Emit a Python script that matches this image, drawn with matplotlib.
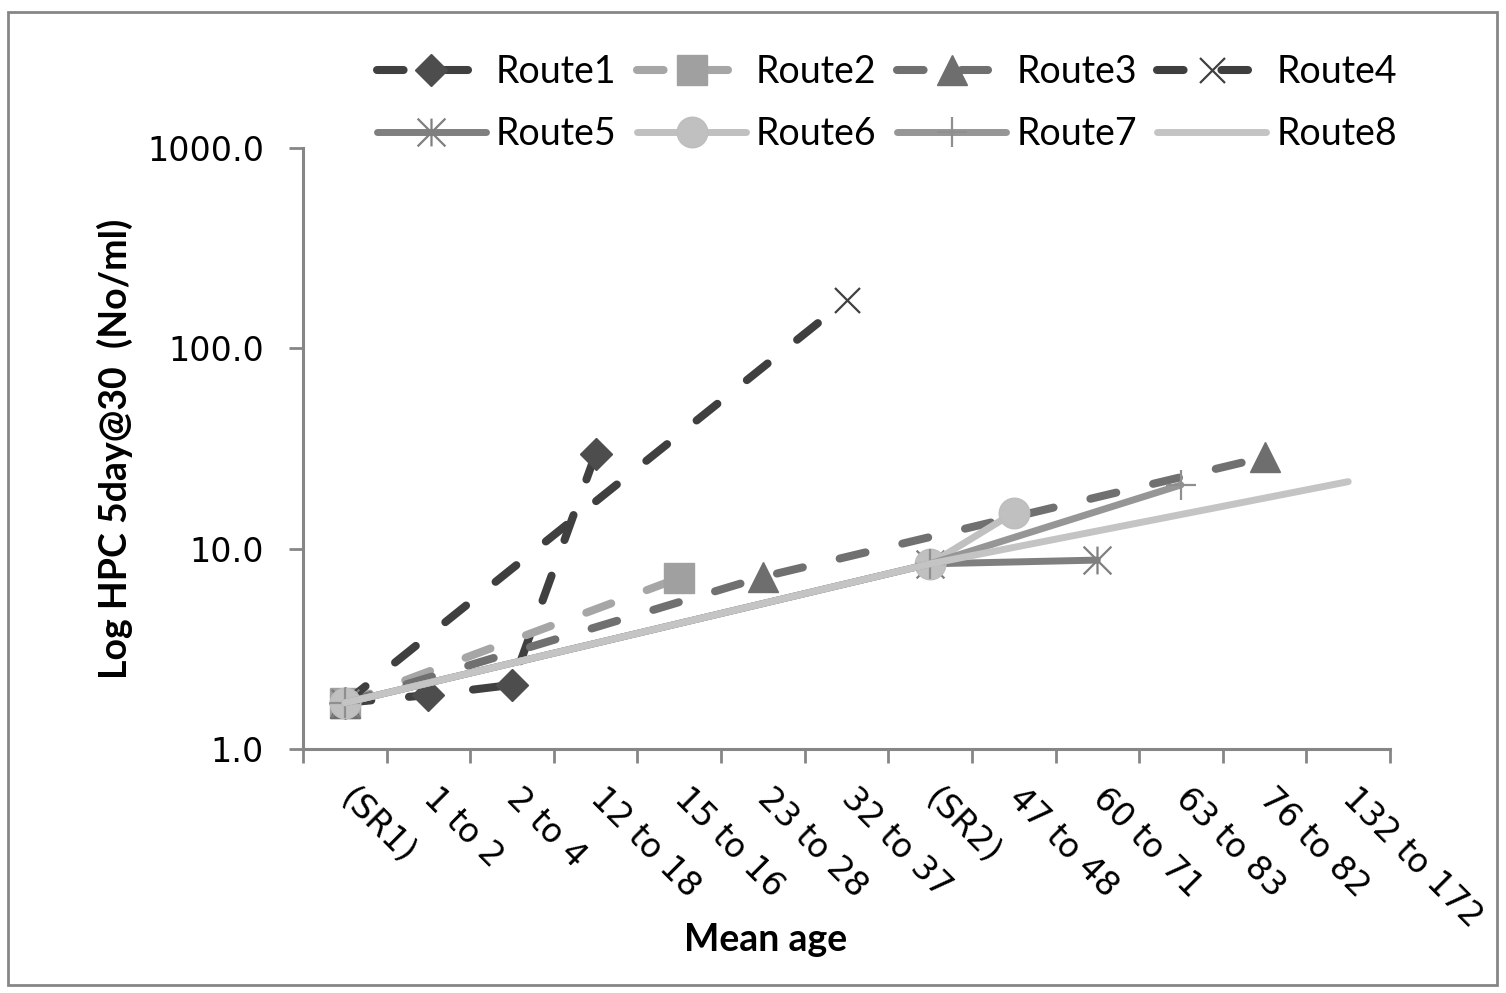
import matplotlib.pyplot as plt
from matplotlib.patches import Rectangle
from matplotlib.path import Path
from matplotlib.ticker import FixedLocator, NullLocator, FuncFormatter

categories = ["(SR1)", "1 to 2", "2 to 4", "12 to 18", "15 to 16", "23 to 28",
              "32 to 37", "(SR2)", "47 to 48", "60 to 71", "63 to 83",
              "76 to 82", "132 to 172"]

N = None
route1 = [1.7, 1.86, 2.09, 29.7, N, N, N, N, N, N, N, N, N]
route2 = [1.7, N, N, N, 7.14, N, N, N, N, N, N, N, N]
route3 = [1.7, N, N, N, N, 7.23, N, N, N, N, N, 28.6, N]
route4 = [1.7, N, N, N, N, N, 174.0, N, N, N, N, N, N]
route5 = [1.7, N, N, N, N, N, N, 8.4, N, 8.77, N, N, N]
route6 = [1.7, N, N, N, N, N, N, 8.4, 15.1, N, N, N, N]
route7 = [1.7, N, N, N, N, N, N, 8.4, N, N, 20.8, N, N]
route8 = [1.7, N, N, N, N, N, N, 8.4, N, N, N, N, 21.6]

# six-arm star: vertical stroke plus an x
star = Path([(0, -1), (0, 1), (-1, -1), (1, 1), (-1, 1), (1, -1)],
            [Path.MOVETO, Path.LINETO, Path.MOVETO, Path.LINETO,
             Path.MOVETO, Path.LINETO])

dash = (3.3, 4.7)
series = [
    ("Route1", route1, "#404040", dash, dict(marker="D", ms=16, mfc="#4d4d4d", mec="#4d4d4d")),
    ("Route2", route2, "#a6a6a6", dash, dict(marker="s", ms=22, mfc="#a0a0a0", mec="#a0a0a0")),
    ("Route3", route3, "#707070", dash, dict(marker="^", ms=22, mfc="#6e6e6e", mec="#6e6e6e")),
    ("Route4", route4, "#3f3f3f", dash, dict(marker="x", ms=18, mec="#404040", mew=1.6)),
    ("Route5", route5, "#7f7f7f", None, dict(marker=star, ms=20, mec="#7f7f7f", mew=1.6)),
    ("Route6", route6, "#c0c0c0", None, dict(marker="o", ms=22, mfc="#c0c0c0", mec="#bdbdbd")),
    ("Route7", route7, "#969696", None, dict(marker="+", ms=22, mec="#8f8f8f", mew=1.6)),
    ("Route8", route8, "#c4c4c4", None, dict(marker="None")),
]

fig = plt.figure(figsize=(15.06, 9.93), dpi=100)
ax = fig.add_axes([303 / 1506, 1 - 749 / 993, 1087 / 1506, 601 / 993])

lines = []
for i, (name, vals, color, dashes, mk) in enumerate(series):
    xs = [j for j, v in enumerate(vals) if v is not None]
    ys = [v for v in vals if v is not None]
    kw = dict(color=color, lw=5.8 if dashes else 5.0, solid_capstyle="round",
              dash_capstyle="round", label=name, zorder=3 + i)
    if dashes:
        kw["linestyle"] = (0, dashes)
    lines += ax.plot(xs, ys, **kw, **mk)

ax.set_yscale("log")
ax.set_ylim(1, 1000)
ax.set_xlim(-0.5, len(categories) - 0.5)
ax.yaxis.set_major_locator(FixedLocator([1, 10, 100, 1000]))
ax.yaxis.set_minor_locator(NullLocator())
ax.yaxis.set_major_formatter(FuncFormatter(lambda v, p: f"{v:.1f}"))

# ticks on category boundaries, labels at category centres
ax.xaxis.set_major_locator(FixedLocator([k - 0.5 for k in range(len(categories) + 1)]))
ax.xaxis.set_major_formatter(FuncFormatter(lambda v, p: ""))
ax.set_xticks(range(len(categories)), minor=True)
ax.set_xticklabels(categories, minor=True, rotation=-45, rotation_mode="anchor",
                   ha="left", va="center", fontsize=24, family="DejaVu Sans")
ax.tick_params(axis="x", which="minor", length=0, pad=32)
ax.tick_params(axis="x", which="major", length=10, width=2, color="#868686", direction="out")
ax.tick_params(axis="y", which="major", length=10, width=2, color="#868686",
               direction="out", labelsize=24, pad=18)

for s in ("top", "right"):
    ax.spines[s].set_visible(False)
for s in ("left", "bottom"):
    ax.spines[s].set_color("#868686")
    ax.spines[s].set_linewidth(2.2)

fig.text(766 / 1506, 1 - 940 / 993, "Mean age", ha="center", va="center",
         fontsize=27, fontweight="bold", family="Lato")
fig.text(115 / 1506, 1 - 449 / 993, "Log HPC 5day@30  (No/ml)", rotation=90,
         ha="center", va="center", fontsize=27, fontweight="bold", family="Lato")

# legend fills column by column, so interleave to get Route1-4 on the top row
order = [0, 4, 1, 5, 2, 6, 3, 7]
leg = ax.legend([lines[k] for k in order], [series[k][0] for k in order],
                loc="center", bbox_to_anchor=(887 / 1506, 1 - 103 / 993),
                bbox_transform=fig.transFigure, ncol=4, frameon=False,
                prop={"family": "Lato", "size": 27}, handlelength=2.9,
                handletextpad=0.27, columnspacing=0.55, labelspacing=0.68)

fig.add_artist(Rectangle((8 / 1506, 8 / 993), 1489 / 1506, 973 / 993,
                         transform=fig.transFigure, fill=False,
                         edgecolor="#868686", lw=2))

fig.savefig("out.png", dpi=100)
